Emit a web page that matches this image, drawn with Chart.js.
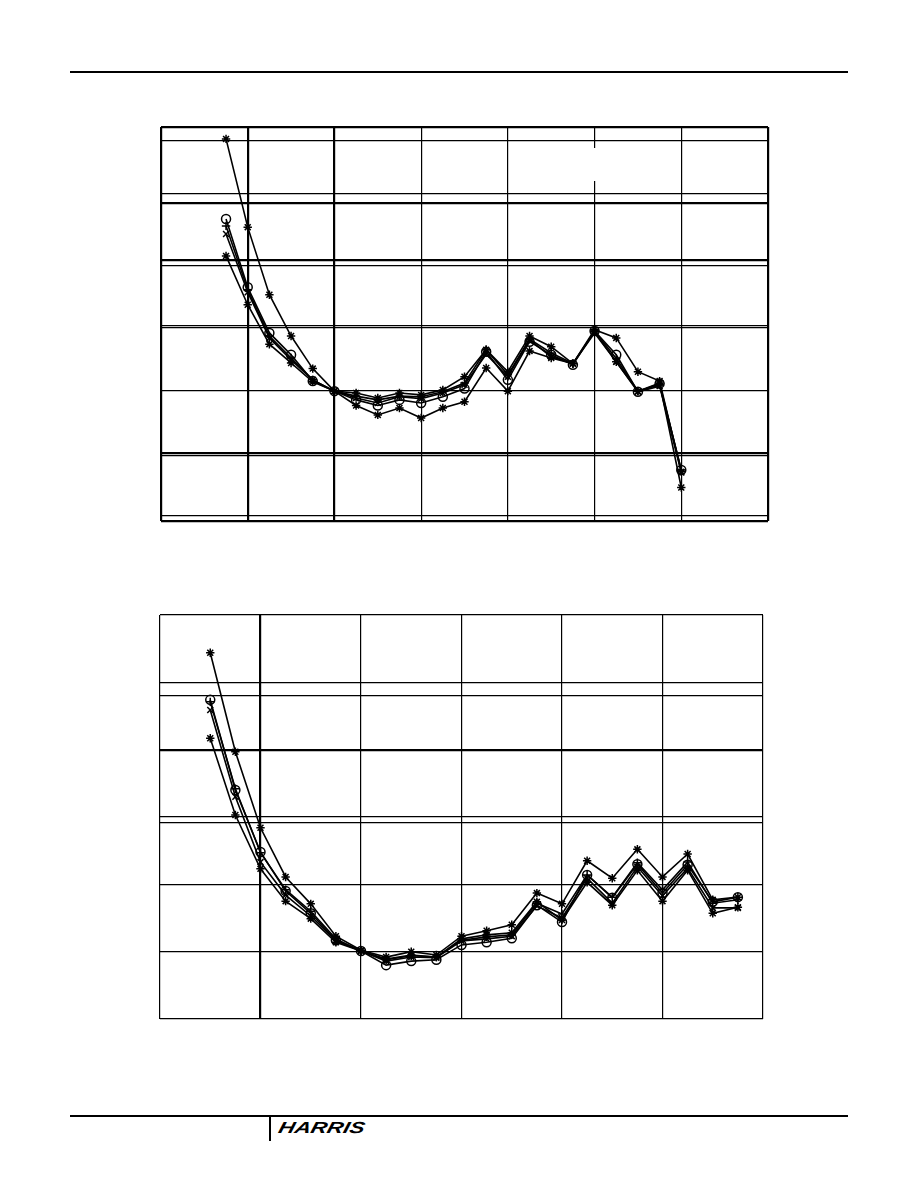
<!DOCTYPE html>
<html>
<head>
<meta charset="utf-8">
<title>Harris datasheet curves</title>
<script src="https://cdn.jsdelivr.net/npm/chart.js@4.4.1/dist/chart.umd.min.js"></script>
<style>
  html, body { margin: 0; padding: 0; background: #fff; }
  body { width: 918px; height: 1188px; position: relative; overflow: hidden; font-family: "Liberation Sans", Arial, sans-serif; }
  .rule { position: absolute; left: 70px; width: 778px; height: 2px; background: #000; }
  #topChart { position: absolute; left: 155px; top: 121px; }
  #bottomChart { position: absolute; left: 154px; top: 609px; }
  .gap { position: absolute; left: 593px; top: 148px; width: 5px; height: 33px; background: #fff; }
  .footTick { position: absolute; left: 269px; top: 1116px; width: 2px; height: 25px; background: #000; }
  .logo { position: absolute; left: 281px; top: 1119px; font-size: 16px; font-weight: bold; font-style: italic; letter-spacing: 0px; transform-origin: left top; transform: skewX(-14deg) scaleX(1.4); }
</style>
</head>
<body>
<div class="rule" style="top:71px"></div>
<canvas id="topChart" width="619" height="406"></canvas>
<div class="gap"></div>
<canvas id="bottomChart" width="615" height="416"></canvas>
<div class="rule" style="top:1115px"></div>
<div class="footTick"></div>
<div class="logo">HARRIS</div>

<script>
// ---- upper graph (x in quarter divisions, y in grid divisions) ----
const topX = [3, 4, 5, 6, 7, 8, 9, 10, 11, 12, 13, 14, 15, 16, 17, 18, 19, 20, 21, 22, 23, 24];
const topA = [6.02, 4.61, 3.53, 2.87, 2.35, 1.99, 1.96, 1.88, 1.96, 1.93, 2.01, 2.22, 2.65, 2.30, 2.87, 2.70, 2.43, 2.97, 2.84, 2.30, 2.15, 0.70];
const topB = [4.63, 3.61, 2.87, 2.52, 2.17, 1.99, 1.91, 1.85, 1.91, 1.90, 1.98, 2.12, 2.65, 2.25, 2.82, 2.60, 2.43, 2.95, 2.51, 1.99, 2.09, 0.73];
const topC = [4.74, 3.65, 2.92, 2.57, 2.15, 1.99, 1.85, 1.76, 1.85, 1.80, 1.90, 2.03, 2.62, 2.17, 2.78, 2.57, 2.41, 2.95, 2.57, 1.98, 2.11, 0.73];
const topD = [4.50, 3.57, 2.84, 2.49, 2.17, 1.99, 1.88, 1.80, 1.90, 1.87, 1.96, 2.09, 2.58, 2.22, 2.81, 2.54, 2.43, 2.92, 2.46, 1.98, 2.07, 0.69];
const topE = [4.15, 3.37, 2.74, 2.44, 2.14, 1.99, 1.76, 1.61, 1.72, 1.56, 1.72, 1.82, 2.36, 1.99, 2.63, 2.52, 2.43, 2.94, 2.46, 1.99, 2.12, 0.45];
const topXGrid = [0, 4, 8, 12, 16, 20, 24, 28];
const topYGrid = [-0.085, 0, 0.96, 1, 2, 3, 3.03, 4, 4.08, 5, 5.14, 6, 6.21];
const topXHeavy = [0, 4, 8, 28];
const topYHeavy = [-0.085, 1, 4.08, 5, 6.21];

// ---- lower graph ----
const botX = [2, 3, 4, 5, 6, 7, 8, 9, 10, 11, 12, 13, 14, 15, 16, 17, 18, 19, 20, 21, 22, 23];
const botA = [5.44, 3.97, 2.84, 2.11, 1.71, 1.23, 1.02, 0.92, 1.00, 0.95, 1.23, 1.31, 1.40, 1.87, 1.71, 2.35, 2.09, 2.52, 2.11, 2.45, 1.77, 1.81];
const botB = [4.71, 3.42, 2.47, 1.92, 1.60, 1.19, 1.01, 0.89, 0.95, 0.92, 1.17, 1.22, 1.25, 1.72, 1.56, 2.14, 1.81, 2.32, 1.92, 2.33, 1.72, 1.77];
const botC = [4.74, 3.40, 2.48, 1.90, 1.57, 1.17, 1.01, 0.80, 0.86, 0.88, 1.10, 1.14, 1.20, 1.69, 1.44, 2.14, 1.80, 2.30, 1.87, 2.29, 1.74, 1.81];
const botD = [4.59, 3.30, 2.33, 1.84, 1.53, 1.16, 1.01, 0.86, 0.92, 0.91, 1.16, 1.19, 1.23, 1.68, 1.50, 2.09, 1.72, 2.26, 1.83, 2.24, 1.65, 1.65];
const botE = [4.17, 3.03, 2.23, 1.75, 1.49, 1.14, 1.01, 0.88, 0.94, 0.92, 1.19, 1.25, 1.28, 1.74, 1.47, 2.03, 1.69, 2.21, 1.75, 2.21, 1.57, 1.66];
const botXGrid = [0, 4, 8, 12, 16, 20, 24];
const botYGrid = [0, 1, 2, 2.91, 3, 4, 4.81, 5, 6];
const botXHeavy = [4];
const botYHeavy = [4];

const markers = ['star', 'cross', 'circle', 'crossRot', 'star'];

function makeSets(xs, seriesList) {
    return seriesList.map((vals, i) => ({
        data: vals.map((v, j) => ({ x: xs[j], y: v })),
        borderColor: '#000',
        borderWidth: 1.6,
        pointStyle: markers[i],
        pointRadius: markers[i] === 'circle' ? 4.5 : 4.2,
        pointBorderWidth: 1.5,
        pointBorderColor: '#000',
        pointBackgroundColor: 'rgba(0,0,0,0)',
        tension: 0,
        fill: false
    }));
}

function gridAxis(grid, heavy, min, max, baseWidth) {
    return {
        type: 'linear',
        min: min,
        max: max,
        afterBuildTicks: (scale) => { scale.ticks = grid.map(v => ({ value: v })); },
        ticks: { display: false },
        border: { display: false },
        grid: {
            color: '#000',
            drawTicks: false,
            lineWidth: (ctx) => heavy.includes(ctx.tick.value) ? 2.2 : baseWidth
        }
    };
}

function drawGraph(id, xs, seriesList, xGrid, yGrid, xHeavy, yHeavy) {
    new Chart(document.getElementById(id), {
        type: 'line',
        data: { datasets: makeSets(xs, seriesList) },
        options: {
            responsive: false,
            animation: false,
            devicePixelRatio: 1,
            layout: { padding: 5 },
            plugins: { legend: { display: false }, tooltip: { enabled: false } },
            scales: {
                x: gridAxis(xGrid, xHeavy, xGrid[0], xGrid[xGrid.length - 1], 1.2),
                y: gridAxis(yGrid, yHeavy, yGrid[0], yGrid[yGrid.length - 1], 1.2)
            }
        }
    });
}

drawGraph('topChart', topX, [topA, topB, topC, topD, topE], topXGrid, topYGrid, topXHeavy, topYHeavy);
drawGraph('bottomChart', botX, [botA, botB, botC, botD, botE], botXGrid, botYGrid, botXHeavy, botYHeavy);
</script>
</body>
</html>
